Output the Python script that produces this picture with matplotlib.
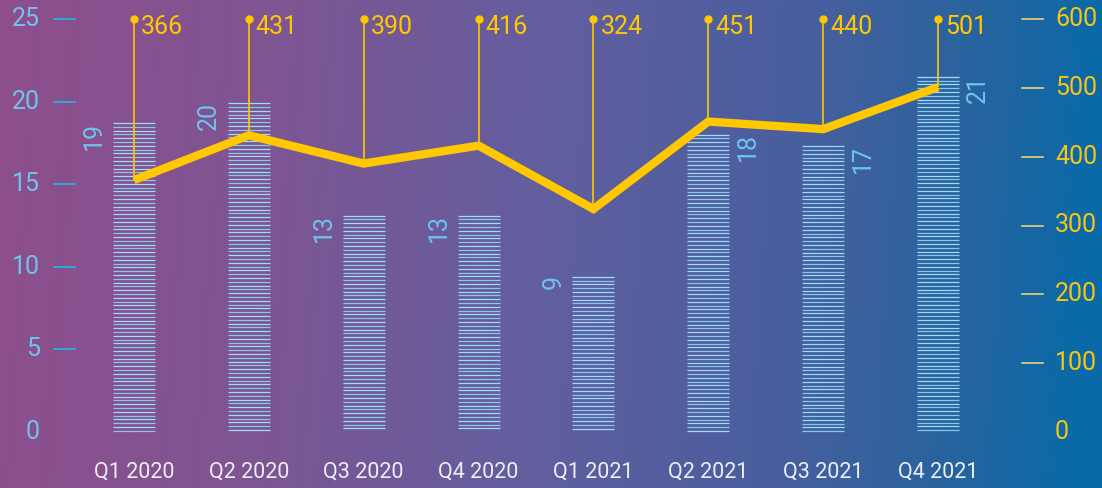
import numpy as np
import matplotlib
matplotlib.use("Agg")
import matplotlib.pyplot as plt
from matplotlib.colors import LinearSegmentedColormap

plt.rcParams['font.family'] = ['Roboto', 'DejaVu Sans']

quarters = ['Q1 2020', 'Q2 2020', 'Q3 2020', 'Q4 2020',
            'Q1 2021', 'Q2 2021', 'Q3 2021', 'Q4 2021']
bar_vals = [18.7, 19.9, 13.1, 13.1, 9.4, 18.0, 17.3, 21.5]
bar_labels = ['19', '20', '13', '13', '9', '18', '17', '21']
bar_label_side = ['left', 'left', 'left', 'left', 'left', 'right', 'right', 'right']
line_vals = [366, 431, 390, 416, 324, 451, 440, 501]
left_ticks = [0, 5, 10, 15, 20, 25]
right_ticks = [0, 100, 200, 300, 400, 500, 600]

W, H = 1102, 488
fig = plt.figure(figsize=(W / 100, H / 100), dpi=100)

# background gradient
bg = fig.add_axes([0, 0, 1, 1])
cmap = LinearSegmentedColormap.from_list('bg', [
    (0.0, '#8e4e8c'), (0.25, '#7e5592'), (0.5, '#635e9f'),
    (0.75, '#465f9e'), (0.9, '#25649f'), (1.0, '#0a6aa8')])
gx = np.linspace(0, 1, 400)
gy = np.linspace(0, 1, 100)
grad = gx[None, :] + 0.03 * gy[:, None]
bg.imshow(grad, cmap=cmap, aspect='auto', extent=[0, 1, 0, 1], vmin=0, vmax=1)
bg.axis('off')

ax = fig.add_axes([0, 0, 1, 1])
ax.patch.set_alpha(0)
ax2 = ax.twinx()

x = np.arange(len(quarters))
px_per_x = 114.86
x0 = 134
ax.set_xlim(-x0 / px_per_x, (W - x0) / px_per_x)
base_px = 432
top_px = 19
lppu = (base_px - top_px) / 25
rppu = (base_px - top_px) / 600
ax.set_ylim(-(H - base_px) / lppu, base_px / lppu)
ax2.set_ylim(-(H - base_px) / rppu, base_px / rppu)
for a in (ax, ax2):
    a.axis('off')

# striped bars
bw = 42 / px_per_x
step = 3.8 / lppu
for i, (xi, h) in enumerate(zip(x, bar_vals)):
    ys = np.arange(h, -0.01, -step)
    cols = ['#a0dcfa' if k % 2 == 0 else '#86c8ee' for k in range(len(ys))]
    ax.hlines(ys, xi - bw / 2, xi + bw / 2, colors=cols, lw=0.9)
    if bar_label_side[i] == 'left':
        ax.annotate(bar_labels[i], (xi - bw / 2, h), xytext=(-5, 1),
                    textcoords='offset points', rotation=90, ha='right', va='top',
                    color='#6ec4ef', fontsize=18)
    else:
        ax.annotate(bar_labels[i], (xi + bw / 2, h), xytext=(5, 1),
                    textcoords='offset points', rotation=90, ha='left', va='top',
                    color='#6ec4ef', fontsize=18)

# line with leader lines
yellow = '#ffc800'
ax2.vlines(x, line_vals, 600, color=yellow, lw=1.2)
ax2.plot(x, [600] * len(x), 'o', color=yellow, ms=5)
ax2.plot(x, line_vals, color=yellow, lw=6, solid_joinstyle='miter',
         solid_capstyle='butt')
for xi, v in zip(x, line_vals):
    ax2.annotate(str(v), (xi, 600), xytext=(5, -6), textcoords='offset points',
                 ha='left', va='center', color=yellow, fontsize=18)

# left axis
ytr = ax.get_yaxis_transform()
for t in left_ticks:
    ax.text(40 / W, t, str(t), transform=ytr, ha='right', va='center',
            color='#6ec4ef', fontsize=18)
    if t > 0:
        ax.plot([54 / W, 75 / W], [t, t], transform=ytr, color='#1fb8ea', lw=1.2)

# right axis
ytr2 = ax2.get_yaxis_transform()
for t in right_ticks:
    ax2.text(1055 / W, t, str(t), transform=ytr2, ha='left', va='center',
             color='#f5c518', fontsize=18)
    if t > 0:
        ax2.plot([1022 / W, 1043 / W], [t, t], transform=ytr2, color='#e8d27a', lw=1.2)

# category labels
xtr = ax.get_xaxis_transform()
for xi, q in zip(x, quarters):
    ax.text(xi, 1 - 472 / H, q, transform=xtr, ha='center', va='center',
            color='#eeeef4', fontsize=15.5)

fig.savefig('out.png', dpi=100)
